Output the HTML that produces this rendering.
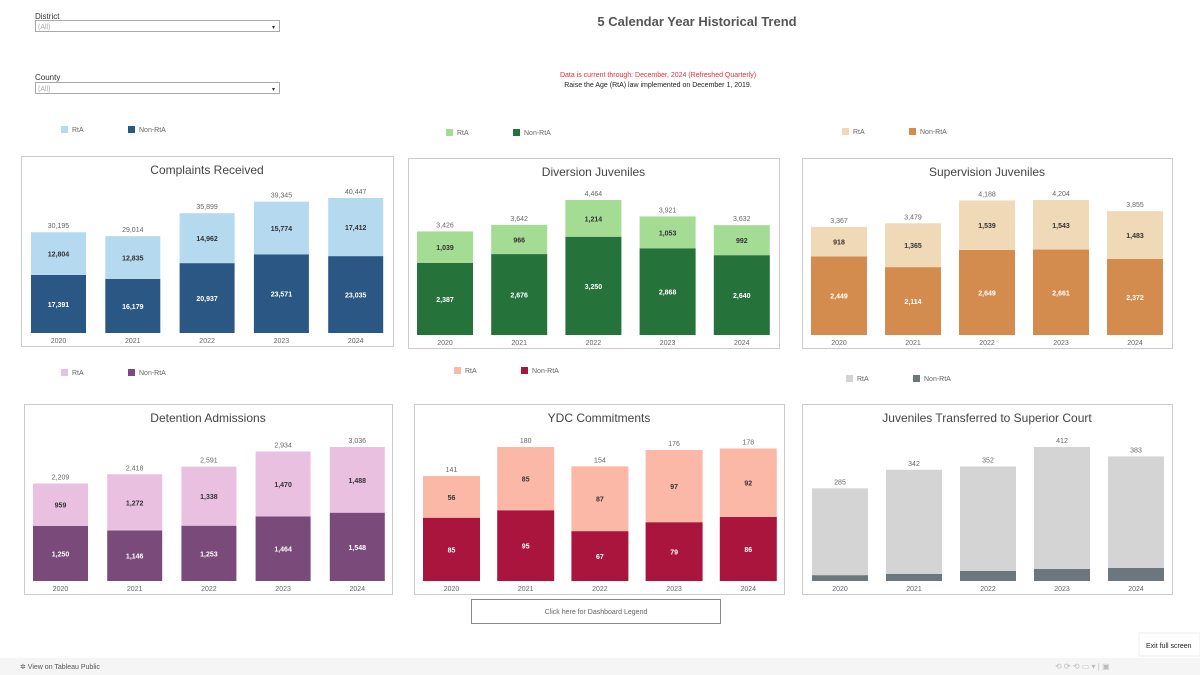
<!DOCTYPE html>
<html><head><meta charset="utf-8"><style>
body{margin:0;width:1200px;height:675px;background:#fff;font-family:"Liberation Sans",sans-serif;overflow:hidden;position:relative}
svg{position:absolute;left:0;top:0}
</style></head><body>
<svg id="s" width="1200" height="675">
<text x="697" y="26" font-size="13" font-weight="bold" fill="#555" text-anchor="middle">5 Calendar Year Historical Trend</text>
<text x="35" y="19" font-size="8" fill="#333">District</text>
<g><rect x="35.5" y="20.5" width="244" height="11" fill="#fff" stroke="#aaa"/><text x="38" y="29" font-size="7" fill="#aaa">(All)</text><text x="272" y="29" font-size="6" fill="#333">▾</text></g>
<text x="35" y="80" font-size="8" fill="#333">County</text>
<g><rect x="35.5" y="82.5" width="244" height="11" fill="#fff" stroke="#aaa"/><text x="38" y="91" font-size="7" fill="#aaa">(All)</text><text x="272" y="91" font-size="6" fill="#333">▾</text></g>
<text x="658" y="77" font-size="7" fill="#e0303a" text-anchor="middle">Data is current through: December, 2024 (Refreshed Quarterly)</text>
<text x="658" y="87" font-size="7" fill="#222" text-anchor="middle">Raise the Age (RtA) law implemented on December 1, 2019.</text>
<g><rect x="471.5" y="599.5" width="249" height="24" fill="#fff" stroke="#888"/><text x="596" y="614" font-size="7" fill="#666" text-anchor="middle">Click here for Dashboard Legend</text></g>
<rect x="0" y="658" width="1200" height="17" fill="#f5f5f5"/>
<text x="20" y="669" font-size="7" fill="#555">✲ View on Tableau Public</text>
<text x="1055" y="669" font-size="8" fill="#bbb">⟲  ⟳  ⟲  ▭ ▾ |  ▣</text>
<g><rect x="1139" y="633" width="61" height="23" fill="#fff" stroke="#eee"/><text x="1146" y="648" font-size="7" fill="#222">Exit full screen</text></g>
</svg>
<script>
const years=["2020","2021","2022","2023","2024"];
const complaintsNon=[17391,16179,20937,23571,23035];
const complaintsRta=[12804,12835,14962,15774,17412];
const diversionNon=[2387,2676,3250,2868,2640];
const diversionRta=[1039,966,1214,1053,992];
const supervisionNon=[2449,2114,2649,2661,2372];
const supervisionRta=[918,1365,1539,1543,1483];
const detentionNon=[1250,1146,1253,1464,1548];
const detentionRta=[959,1272,1338,1470,1488];
const ydcNon=[85,95,67,79,86];
const ydcRta=[56,85,87,97,92];
const transferNon=[18,22,31,37,40];
const transferRta=[267,320,321,375,343];
const svg=document.getElementById('s');
const NS='http://www.w3.org/2000/svg';
function el(t,a,p){const e=document.createElementNS(NS,t);for(const k in a)e.setAttribute(k,a[k]);(p||svg).appendChild(e);return e;}
const fmt=v=>v.toLocaleString('en-US');
const panels=[
 {name:'complaints',title:'Complaints Received',non:complaintsNon,rta:complaintsRta,box:[21,156,372,190],x0:31,step:74.3,bw:55,base:333,h:135,lc:'#b5d9ee',dc:'#2a5783',lg:[61,130],showInner:true},
 {name:'diversion',title:'Diversion Juveniles',non:diversionNon,rta:diversionRta,box:[408,158,371,190],x0:417,step:74.2,bw:56,base:335,h:135,lc:'#a4dc94',dc:'#26723b',lg:[446,133],showInner:true},
 {name:'supervision',title:'Supervision Juveniles',non:supervisionNon,rta:supervisionRta,box:[802,158,370,190],x0:811,step:74,bw:56,base:335,h:135,lc:'#efd9b7',dc:'#d48c4e',lg:[842,132],showInner:true},
 {name:'detention',title:'Detention Admissions',non:detentionNon,rta:detentionRta,box:[24,404,368,190],x0:33,step:74.2,bw:55,base:581,h:134,lc:'#e9c0e0',dc:'#7a4a7a',lg:[61,373],showInner:true},
 {name:'ydc',title:'YDC Commitments',non:ydcNon,rta:ydcRta,box:[414,404,370,190],x0:423,step:74.2,bw:57,base:581,h:134,lc:'#fbb8a6',dc:'#a9153c',lg:[454,371],showInner:true},
 {name:'transfer',title:'Juveniles Transferred to Superior Court',non:transferNon,rta:transferRta,box:[802,404,370,190],x0:812,step:74,bw:56,base:581,h:134,lc:'#d4d4d4',dc:'#6c767d',lg:[846,379],showInner:false}
];
panels.forEach(p=>{
 const g=el('g',{});
 
 
 const [bx,by,bwid,bh]=p.box;
 const r=el('rect',{x:bx+.5,y:by+.5,width:bwid,height:bh,fill:'#fff',stroke:'#ccc'},g);
 
 
 const t=el('text',{x:bx+bwid/2,y:by+18,'font-size':12,fill:'#444','text-anchor':'middle'},g);t.textContent=p.title;
 
 
 const lg=el('g',{});
 
 
 el('rect',{x:p.lg[0],y:p.lg[1]-4,width:7,height:7,fill:p.lc},lg);
 let tt=el('text',{x:p.lg[0]+11,y:p.lg[1]+2,'font-size':7,fill:'#666'},lg);tt.textContent='RtA';
 el('rect',{x:p.lg[0]+67,y:p.lg[1]-4,width:7,height:7,fill:p.dc},lg);
 tt=el('text',{x:p.lg[0]+78,y:p.lg[1]+2,'font-size':7,fill:'#666'},lg);tt.textContent='Non-RtA';
 const tot=p.non.map((v,i)=>v+p.rta[i]);
 const mx=Math.max(...tot);
 const sy=v=>v/mx*p.h;
 years.forEach((yr,i)=>{
  const x=p.x0+i*p.step;
  const hn=sy(p.non[i]),hr=sy(p.rta[i]);
  const b1=el('rect',{x:x,y:p.base-hn,width:p.bw,height:hn,fill:p.dc},g);
  
  
  const b2=el('rect',{x:x,y:p.base-hn-hr,width:p.bw,height:hr,fill:p.lc},g);
  
  
  const cx=x+p.bw/2;
  let l=el('text',{x:cx,y:p.base-hn-hr-4,'font-size':7,fill:'#666','text-anchor':'middle'},g);l.textContent=fmt(tot[i]);
  if(p.showInner){
   l=el('text',{x:cx,y:p.base-hn/2+3,'font-size':7,fill:'#fff','font-weight':'bold','text-anchor':'middle'},g);l.textContent=fmt(p.non[i]);
   l=el('text',{x:cx,y:p.base-hn-hr/2+3,'font-size':7,fill:'#333','font-weight':'bold','text-anchor':'middle'},g);l.textContent=fmt(p.rta[i]);
  }
  l=el('text',{x:cx,y:p.base+10,'font-size':7,fill:'#666','text-anchor':'middle'},g);l.textContent=yr;
 });
});
</script>
</body></html>
